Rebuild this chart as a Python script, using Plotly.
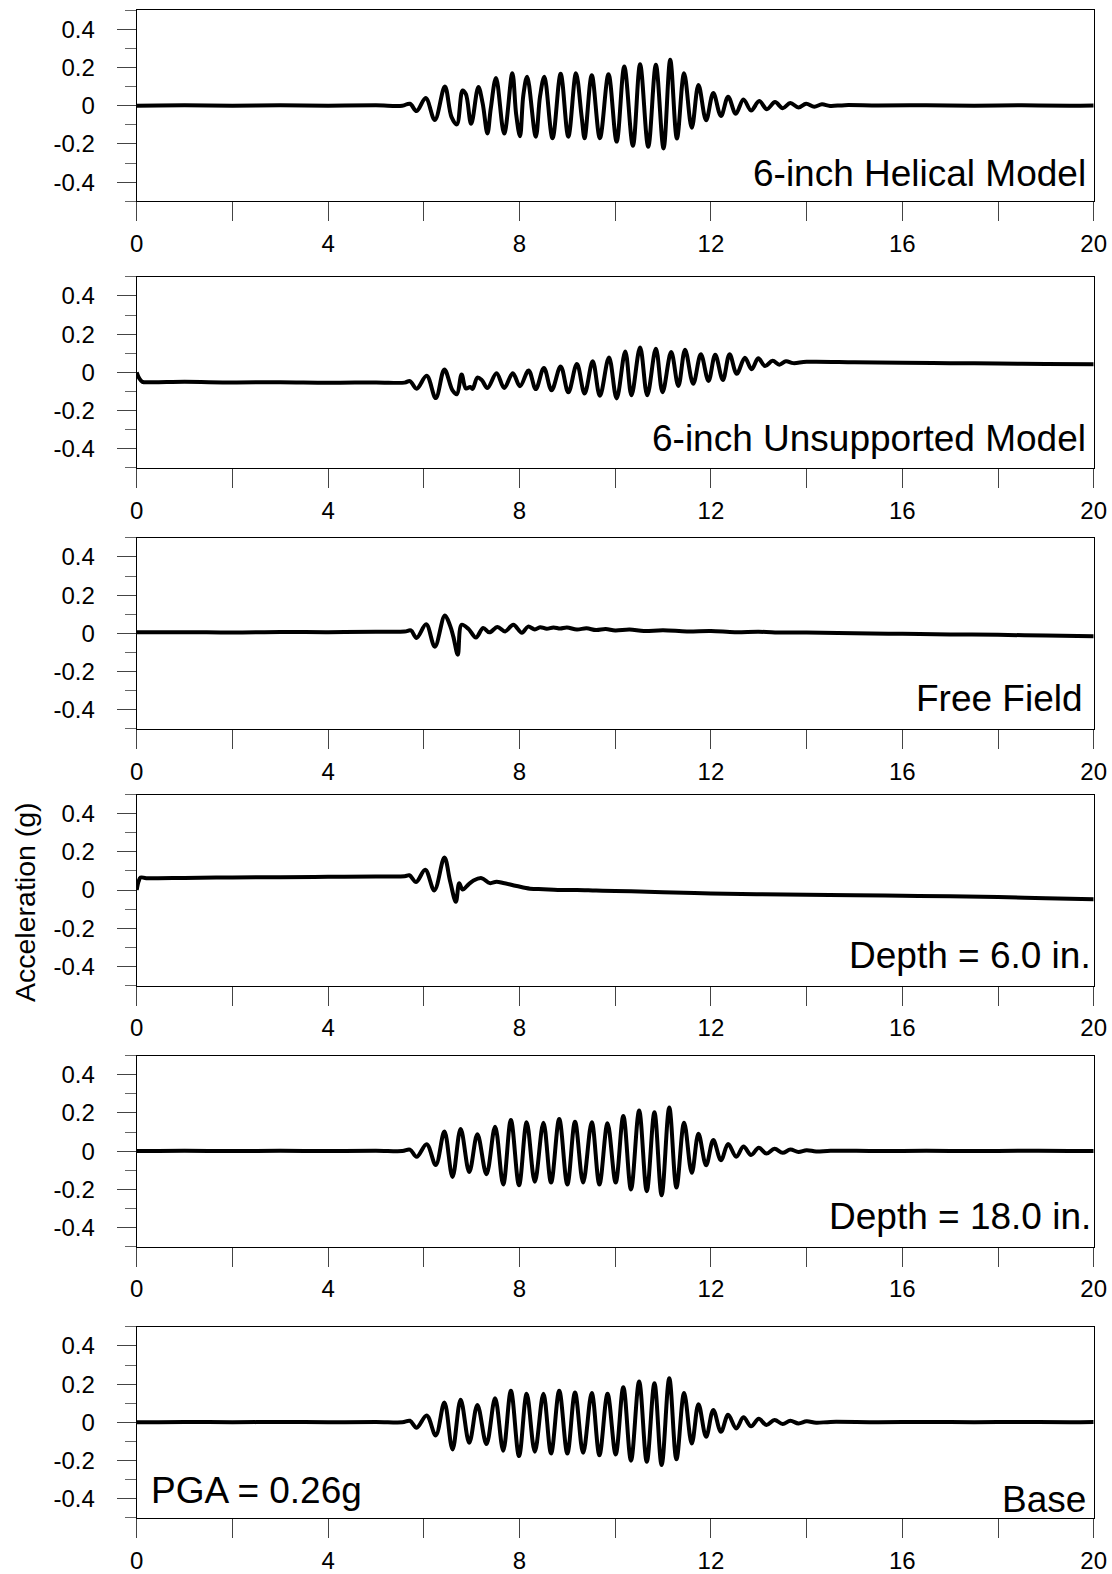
import plotly.graph_objects as go

# ---------------- data ----------------
x_tick_vals = [0, 2, 4, 6, 8, 10, 12, 14, 16, 18, 20]
x_tick_text = ["0", "", "4", "", "8", "", "12", "", "16", "", "20"]
y_tick_vals = [-0.4, -0.2, 0, 0.2, 0.4]
y_tick_text = ["-0.4", "-0.2", "0", "0.2", "0.4"]
y_minor_vals = [-0.5, -0.3, -0.1, 0.1, 0.3, 0.5]

panel_labels = ["6-inch Helical Model", "6-inch Unsupported Model", "Free Field",
                "Depth = 6.0 in.", "Depth = 18.0 in.", "Base"]
y_title = "Acceleration (g)"
pga_text = "PGA = 0.26g"

t_helical = [0, 1, 2, 3, 4, 5, 5.55,
             5.71, 5.85, 6.04, 6.23, 6.44, 6.58, 6.69, 6.81, 6.88, 6.99, 7.14, 7.23, 7.33, 7.40,
             7.51, 7.68, 7.85, 7.93, 8.01, 8.08, 8.16, 8.34, 8.43, 8.52, 8.69, 8.86, 9.02, 9.18,
             9.30, 9.36, 9.51, 9.68, 9.86, 10.03, 10.19, 10.37, 10.52, 10.69, 10.85, 11.01, 11.15,
             11.29, 11.44, 11.60, 11.74, 11.90, 12.05, 12.21, 12.36, 12.52, 12.68, 12.84, 13.01,
             13.17, 13.34, 13.50, 13.66, 13.83, 13.99, 14.16, 14.32, 14.49, 14.8, 15.5, 16.5,
             17.5, 18.5, 19.5, 20]
a_helical = [0.0, 0.002, 0.0, 0.002, 0.0, 0.002, 0.0,
             0.010, -0.028, 0.040, -0.075, 0.100, -0.060, -0.098, 0.080, 0.060, -0.095, 0.098, 0.012, -0.145, -0.014,
             0.145, -0.146, 0.170, -0.045, -0.160, 0.055, 0.152, -0.162, 0.050, 0.152, -0.170, 0.167, -0.162, 0.170,
             -0.060, -0.170, 0.160, -0.170, 0.165, -0.188, 0.205, -0.210, 0.217, -0.215, 0.214, -0.224, 0.240,
             -0.172, 0.170, -0.116, 0.109, -0.076, 0.066, -0.054, 0.047, -0.042, 0.033, -0.025, 0.024,
             -0.018, 0.019, -0.013, 0.014, -0.009, 0.010, -0.005, 0.007, -0.001, 0.003, 0.001, 0.002,
             0.0, 0.002, 0.0, 0.001]

t_unsupported = [0, 0.05, 0.12, 0.3, 1, 2, 3, 4, 5, 5.6,
                 5.71, 5.85, 6.06, 6.25, 6.43, 6.60, 6.69, 6.79, 6.88, 6.97, 7.02, 7.12, 7.21, 7.33,
                 7.52, 7.68, 7.86, 8.01, 8.19, 8.34, 8.51, 8.67, 8.86, 9.02, 9.20, 9.36, 9.53, 9.68,
                 9.87, 10.03, 10.21, 10.34, 10.52, 10.67, 10.85, 10.99, 11.17, 11.32, 11.46, 11.63,
                 11.79, 11.95, 12.09, 12.25, 12.39, 12.54, 12.71, 12.85, 12.99, 13.13, 13.29, 13.43,
                 13.57, 13.72, 14.0, 15, 16, 17, 18, 19, 20]
a_unsupported = [0.0, -0.03, -0.05, -0.052, -0.05, -0.053, -0.052, -0.055, -0.053, -0.054,
                 -0.046, -0.086, -0.018, -0.135, 0.015, -0.095, -0.115, -0.012, -0.085, -0.077, -0.087, -0.028, -0.040, -0.082,
                 -0.005, -0.082, -0.005, -0.073, 0.010, -0.088, 0.023, -0.094, 0.031, -0.105, 0.044, -0.111, 0.058, -0.123,
                 0.078, -0.137, 0.109, -0.120, 0.130, -0.120, 0.123, -0.104, 0.106, -0.072, 0.118, -0.060,
                 0.094, -0.045, 0.092, -0.040, 0.095, -0.008, 0.076, 0.016, 0.073, 0.033, 0.060, 0.040,
                 0.058, 0.048, 0.055, 0.053, 0.050, 0.048, 0.046, 0.044, 0.042]

t_free = [0, 1, 2, 3, 4, 5, 5.6,
          5.73, 5.85, 6.05, 6.23, 6.44, 6.55, 6.62, 6.71, 6.79, 6.93, 7.09, 7.24, 7.37, 7.54, 7.70,
          7.87, 8.05, 8.18, 8.32, 8.43, 8.57, 8.71, 8.85, 8.99, 9.2, 9.4, 9.6, 9.8, 10.0, 10.3,
          10.6, 11, 11.5, 12, 12.5, 13, 13.5, 14, 15, 16, 17, 18, 19, 20]
a_free = [0.005, 0.006, 0.004, 0.007, 0.006, 0.008, 0.009,
          0.015, -0.024, 0.047, -0.070, 0.093, 0.040, -0.020, -0.112, 0.045, 0.024, -0.022, 0.028, 0.005, 0.033, 0.010,
          0.045, 0.003, 0.035, 0.020, 0.032, 0.024, 0.031, 0.025, 0.030, 0.020, 0.026, 0.017, 0.022, 0.015, 0.020,
          0.012, 0.016, 0.010, 0.012, 0.006, 0.008, 0.004, 0.004, 0.0, -0.003, -0.006, -0.008, -0.012, -0.015]

t_depth6 = [0, 0.04, 0.08, 0.2, 1, 2, 3, 4, 5, 5.6,
            5.70, 5.84, 6.03, 6.22, 6.43, 6.55, 6.67, 6.74, 6.81, 6.93, 7.04, 7.21, 7.38, 7.52,
            7.66, 7.94, 8.22, 8.5, 8.8, 9.2, 9.6, 10, 10.5, 11, 12, 13, 14, 15, 16, 17, 18, 19, 20]
a_depth6 = [0.0, 0.045, 0.065, 0.062, 0.063, 0.066, 0.067, 0.069, 0.071, 0.072,
            0.077, 0.042, 0.106, -0.002, 0.170, 0.046, -0.062, 0.035, 0.002, 0.028, 0.050, 0.062, 0.036, 0.043,
            0.037, 0.021, 0.007, 0.004, 0.0, 0.0, -0.003, -0.005, -0.008, -0.012, -0.018, -0.022, -0.025,
            -0.027, -0.030, -0.033, -0.037, -0.043, -0.048]

t_depth18 = [0, 1, 2, 3, 4, 5, 5.55,
             5.71, 5.85, 6.06, 6.25, 6.43, 6.60, 6.77, 6.95, 7.12, 7.31, 7.49, 7.66, 7.82, 7.99,
             8.15, 8.32, 8.50, 8.66, 8.83, 9.00, 9.16, 9.33, 9.51, 9.67, 9.84, 10.01, 10.17, 10.33,
             10.50, 10.66, 10.82, 10.97, 11.13, 11.28, 11.44, 11.60, 11.74, 11.90, 12.05, 12.21,
             12.36, 12.53, 12.68, 12.84, 13.00, 13.16, 13.33, 13.50, 13.66, 13.83, 14.0, 14.2, 14.5,
             15.5, 16.5, 17.5, 18.5, 19.5, 20]
a_depth18 = [0.0, 0.002, 0.0, 0.002, 0.0, 0.002, 0.0,
             0.008, -0.030, 0.036, -0.073, 0.102, -0.135, 0.116, -0.109, 0.088, -0.121, 0.128, -0.175, 0.163, -0.179,
             0.151, -0.161, 0.149, -0.165, 0.168, -0.175, 0.154, -0.165, 0.151, -0.175, 0.146, -0.165, 0.184, -0.201,
             0.212, -0.210, 0.203, -0.231, 0.228, -0.191, 0.149, -0.114, 0.091, -0.074, 0.058, -0.048,
             0.037, -0.030, 0.024, -0.020, 0.017, -0.013, 0.012, -0.009, 0.008, -0.005, 0.005, -0.002, 0.002,
             0.0, 0.002, 0.0, 0.002, 0.0, 0.001]

t_base = [0, 1, 2, 3, 4, 5, 5.55,
          5.71, 5.85, 6.06, 6.25, 6.43, 6.60, 6.77, 6.95, 7.12, 7.31, 7.49, 7.66, 7.82, 7.99,
          8.15, 8.32, 8.50, 8.66, 8.83, 9.00, 9.16, 9.33, 9.51, 9.67, 9.84, 10.01, 10.17, 10.33,
          10.50, 10.66, 10.82, 10.97, 11.13, 11.28, 11.44, 11.60, 11.74, 11.90, 12.05, 12.21,
          12.36, 12.53, 12.68, 12.84, 13.00, 13.16, 13.33, 13.50, 13.66, 13.83, 14.0, 14.2, 14.5,
          15.5, 16.5, 17.5, 18.5, 19.5, 20]
a_base = [0.0, 0.002, 0.0, 0.002, 0.0, 0.002, 0.0,
          0.008, -0.028, 0.036, -0.069, 0.104, -0.142, 0.118, -0.107, 0.091, -0.114, 0.126, -0.149, 0.165, -0.177,
          0.149, -0.154, 0.149, -0.163, 0.165, -0.163, 0.156, -0.160, 0.153, -0.172, 0.149, -0.168, 0.184, -0.201,
          0.214, -0.207, 0.205, -0.224, 0.231, -0.194, 0.153, -0.111, 0.095, -0.076, 0.065, -0.050,
          0.039, -0.032, 0.026, -0.021, 0.018, -0.014, 0.012, -0.009, 0.008, -0.006, 0.005, -0.002, 0.002,
          0.0, 0.002, 0.0, 0.002, 0.0, 0.001]

series = [(t_helical, a_helical), (t_unsupported, a_unsupported), (t_free, a_free),
          (t_depth6, a_depth6), (t_depth18, a_depth18), (t_base, a_base)]

# ---------------- layout geometry (pixels) ----------------
W, H = 1112, 1574
zero_px = [105.7, 372.3, 633.3, 890.0, 1151.1, 1422.3]
half_px = 95.5
x_left_px, x_right_px = 136.7, 1093.7
label_pos = [(1088, 173.0), (1088, 438.6), (1085, 698.5), (1093, 955.0), (1093, 1216.4), (1088, 1499.0)]

FONT = "Liberation Sans, Arial, sans-serif"
TICK_FONT = dict(family=FONT, size=24, color="black")
LABEL_FONT = dict(family=FONT, size=37, color="black")

fig = go.Figure()
layout = dict(
    width=W, height=H, autosize=False,
    margin=dict(l=0, r=0, t=0, b=0, pad=0, autoexpand=False),
    paper_bgcolor="white", plot_bgcolor="white",
    showlegend=False,
)

annotations = []
for i, (t, a) in enumerate(series):
    n = "" if i == 0 else str(i + 1)
    fig.add_trace(go.Scatter(
        x=t, y=a, mode="lines",
        line=dict(color="black", width=4, shape="spline", smoothing=1.0),
        xaxis="x" + n, yaxis="y" + n, hoverinfo="skip", showlegend=False,
    ))
    y_bot = 1 - (zero_px[i] + half_px) / H
    y_top = 1 - (zero_px[i] - half_px) / H
    layout["xaxis" + n] = dict(
        domain=[x_left_px / W, x_right_px / W], anchor="y" + n,
        range=[0, 20], tickmode="array", tickvals=x_tick_vals, ticktext=x_tick_text,
        ticks="outside", ticklen=19, tickwidth=1, tickcolor="#444",
        showline=True, linecolor="black", linewidth=1, mirror=True,
        showgrid=False, zeroline=False, tickfont=TICK_FONT, ticklabelstandoff=2,
        automargin=False, fixedrange=True,
    )
    layout["yaxis" + n] = dict(
        domain=[y_bot, y_top], anchor="x" + n,
        range=[-0.5, 0.5], tickmode="array", tickvals=y_tick_vals, ticktext=y_tick_text,
        ticks="outside", ticklen=19, tickwidth=1, tickcolor="#444",
        minor=dict(tickmode="array", tickvals=y_minor_vals, ticks="outside", ticklen=11,
                   tickwidth=1, tickcolor="#666", showgrid=False),
        showline=True, linecolor="black", linewidth=1, mirror=True,
        showgrid=False, zeroline=False, tickfont=TICK_FONT, ticklabelstandoff=17,
        automargin=False, fixedrange=True,
    )
    lx, ly = label_pos[i]
    annotations.append(dict(
        text=panel_labels[i], xref="paper", yref="paper",
        x=lx / W, y=1 - ly / H, xanchor="right", yanchor="middle",
        showarrow=False, font=LABEL_FONT,
    ))

annotations.append(dict(
    text=pga_text, xref="paper", yref="paper",
    x=149 / W, y=1 - 1490.7 / H, xanchor="left", yanchor="middle",
    showarrow=False, font=LABEL_FONT,
))
annotations.append(dict(
    text=y_title, xref="paper", yref="paper",
    x=25 / W, y=1 - 902 / H, xanchor="center", yanchor="middle", textangle=-90,
    showarrow=False, font=dict(family=FONT, size=28.5, color="black"),
))
layout["annotations"] = annotations
fig.update_layout(**layout)

fig.write_html("out.html", config={"responsive": False, "displayModeBar": False})
